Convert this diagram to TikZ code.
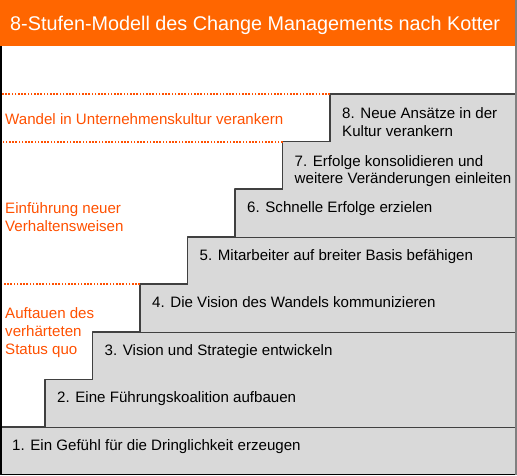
\documentclass[tikz,border=0pt]{standalone}
\usepackage{fontspec}
\setmainfont{Liberation Sans}
\definecolor{kotterorange}{RGB}{255,102,0}
\definecolor{phaseorange}{RGB}{255,80,0}
\definecolor{stepgray}{RGB}{217,217,217}
\definecolor{stepline}{RGB}{64,64,64}
\begin{document}
\begin{tikzpicture}[x=1pt,y=-1pt,line join=round,
  stepedge/.style={draw=stepline,line width=1.6pt},
  steptext/.style={anchor=base west,inner sep=0pt,align=left,font=\fontsize{15.1}{17.5}\selectfont},
  phaselabel/.style={anchor=base west,inner sep=0pt,align=left,text=phaseorange,font=\fontsize{15.1}{18}\selectfont},
  phaseline/.style={phaseorange,line width=2pt,dash pattern=on 1.6pt off 1.6pt}]
\useasboundingbox (0,0) rectangle (517,475);
% title bar
\fill[kotterorange] (0,0) rectangle (517,46);
\node[anchor=base west,inner sep=0pt,text=white,font=\fontsize{19.8}{24}\selectfont] (title) at (10,30) {8-Stufen-Modell des Change Managements nach Kotter};

% the eight steps (\dy = baseline of the last line below the step top)
\foreach \n/\dy/\txt in {1/23.5/{1. Ein Gefühl für die Dringlichkeit erzeugen},
                     2/23.5/{2. Eine Führungskoalition aufbauen},
                     3/23.5/{3. Vision und Strategie entwickeln},
                     4/23.5/{4. Die Vision des Wandels kommunizieren},
                     5/23.5/{5. Mitarbeiter auf breiter Basis befähigen},
                     6/23.5/{6. Schnelle Erfolge erzielen},
                     7/42/{7. Erfolge konsolidieren und\\weitere Veränderungen einleiten},
                     8/42/{8. Neue Ansätze in der\\Kultur verankern}}{
  \pgfmathsetmacro\lx{max(0,45+(\n-2)*47.5)}
  \pgfmathsetmacro\ty{427-(\n-1)*47.57}
  \fill[stepgray] (\lx,\ty) rectangle (515,\ty+48);
  \draw[stepedge] (\lx,\ty+48) -- (\lx,\ty) -- (515,\ty);
  \coordinate (c\n) at (\lx,\ty);
  \node[steptext] (s\n) at (\lx+12,\ty+\dy) {\txt};
}

% phases
\draw[phaseline] (c8) -- (c8 -| 0,0);
\draw[phaseline] (c7) -- (c7 -| 0,0);
\draw[phaseline] (c4) -- (c4 -| 0,0);
\node[phaselabel] (p3) at (5,124) {Wandel in Unternehmenskultur verankern};
\node[phaselabel] (p2) at (5,231) {Einführung neuer\\Verhaltensweisen};
\node[phaselabel] (p1) at (5,354) {Auftauen des\\verhärteten\\Status quo};

% frame
\draw[line width=1.5pt] (0.75,46) -- (0.75,474.25) -- (515,474.25);
\draw[gray,line width=2pt] (515.5,0) -- (515.5,475);
\end{tikzpicture}
\end{document}
